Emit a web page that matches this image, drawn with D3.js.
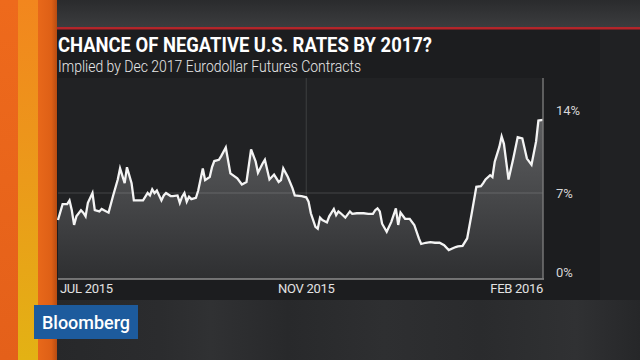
<!DOCTYPE html>
<html><head><meta charset="utf-8">
<script src="https://cdn.jsdelivr.net/npm/d3@7"></script>
<style>html,body{margin:0;padding:0;background:#242527;overflow:hidden}svg{display:block}</style>
</head><body>
<svg id="c" width="640" height="360"></svg>
<script>
// ---- data ----
const dates = ["2015-07-16","2015-07-18","2015-07-20","2015-07-21","2015-07-22","2015-07-23","2015-07-24","2015-07-26","2015-07-27","2015-07-28","2015-07-29","2015-07-31",
"2015-08-01","2015-08-03","2015-08-04","2015-08-05","2015-08-07","2015-08-09","2015-08-11","2015-08-12","2015-08-14","2015-08-15","2015-08-17","2015-08-18","2015-08-19","2015-08-21","2015-08-22","2015-08-24","2015-08-25","2015-08-26","2015-08-27","2015-08-28","2015-08-30","2015-08-31",
"2015-09-01","2015-09-03","2015-09-04","2015-09-06","2015-09-07","2015-09-08","2015-09-09","2015-09-10","2015-09-11","2015-09-12","2015-09-14","2015-09-15","2015-09-17","2015-09-18","2015-09-20","2015-09-21","2015-09-22","2015-09-24","2015-09-25","2015-09-27","2015-09-29",
"2015-10-02","2015-10-04","2015-10-06","2015-10-08","2015-10-10","2015-10-11","2015-10-13","2015-10-14","2015-10-16","2015-10-18","2015-10-20","2015-10-21","2015-10-22","2015-10-24","2015-10-26","2015-10-27","2015-10-30",
"2015-11-01","2015-11-02","2015-11-03","2015-11-05","2015-11-06","2015-11-07","2015-11-08","2015-11-10","2015-11-11","2015-11-13","2015-11-14","2015-11-15","2015-11-16","2015-11-18","2015-11-20","2015-11-21","2015-11-23","2015-11-26","2015-11-28","2015-11-30",
"2015-12-01","2015-12-02","2015-12-03","2015-12-04","2015-12-06","2015-12-08","2015-12-10","2015-12-11","2015-12-12","2015-12-14","2015-12-16","2015-12-18","2015-12-20","2015-12-21","2015-12-23","2015-12-25","2015-12-27","2015-12-29","2015-12-31",
"2016-01-02","2016-01-05","2016-01-06","2016-01-08","2016-01-10","2016-01-12","2016-01-14","2016-01-16","2016-01-17","2016-01-18","2016-01-20","2016-01-21","2016-01-22","2016-01-24","2016-01-25","2016-01-26","2016-01-28","2016-01-30",
"2016-02-01","2016-02-03","2016-02-05","2016-02-07","2016-02-09","2016-02-10","2016-02-12"];
const values = [4.8,6.1,6.1,6.4,5.6,4.4,5.1,5.6,5.4,5.1,6.2,7.0,
5.6,5.5,5.7,5.6,5.4,6.8,8.1,9.0,7.8,9.1,7.8,6.4,6.4,6.4,6.4,7.0,6.8,7.3,7.0,7.2,6.4,6.8,
7.0,6.75,6.75,6.8,6.2,6.7,7.0,6.3,6.7,6.5,6.6,7.2,9.0,8.05,8.3,9.1,9.6,9.7,10.0,10.7,8.6,
8.2,7.7,7.9,10.55,9.55,8.65,9.4,9.7,8.1,8.5,7.9,8.05,9.0,8.3,7.4,6.8,6.75,
6.65,6.3,5.35,4.25,4.1,5.0,4.8,4.6,5.1,5.7,5.2,5.5,5.35,5.0,5.5,5.3,5.35,5.35,5.3,5.3,
5.6,5.75,5.5,4.5,3.85,4.65,5.75,4.4,5.4,4.9,4.9,4.4,3.3,2.85,2.95,3.0,2.95,2.95,2.75,
2.35,2.6,2.65,2.7,3.3,5.35,7.5,7.55,7.8,8.1,8.45,8.3,9.55,10.75,11.6,11.0,8.1,9.75,
11.55,11.45,9.8,9.3,11.2,12.9,12.95];
const yTicks = [0, 7, 14];
const xTickDates = ["2015-07-16","2015-11-01","2016-02-12"];
const xTickLabels = ["JUL 2015","NOV 2015","FEB 2016"];
const titleText = "CHANCE OF NEGATIVE U.S. RATES BY 2017?";
const subtitleText = "Implied by Dec 2017 Eurodollar Futures Contracts";
const brandText = "Bloomberg";

// ---- layout ----
const W = 640, H = 360;
const plot = {left: 58, right: 543, top: 78, bottom: 279};
const parse = d3.timeParse("%Y-%m-%d");
const data = dates.map((d, i) => ({date: parse(d), value: values[i]}));

const x = d3.scaleTime().domain([parse("2015-07-16"), parse("2016-02-12")]).range([plot.left, plot.right]);
const y = d3.scaleLinear().domain([0, 14]).range([plot.bottom, 107]);

const svg = d3.select("#c");
const defs = svg.append("defs");

function lin(id, x1, y1, x2, y2, stops, units) {
  const g = defs.append("linearGradient").attr("id", id)
    .attr("x1", x1).attr("y1", y1).attr("x2", x2).attr("y2", y2);
  if (units) g.attr("gradientUnits", units);
  stops.forEach(s => g.append("stop").attr("offset", s[0]).attr("stop-color", s[1]));
}
lin("bgH", 0, 0, 1, 0, [[0, "#252628"], [0.25, "#2b2c2e"], [0.33, "#303133"], [0.45, "#28292b"], [0.6, "#2e2f31"], [0.75, "#2a2b2d"], [0.9, "#303133"], [1, "#262729"]]);
lin("topG", 0, 0, 0, 1, [[0, "#2a2b2d"], [1, "#3c3d3f"]]);
lin("s1", 0, 0, 0, 1, [[0, "#ee6a1c"], [1, "#e4601a"]]);
lin("s2", 0, 0, 0, 1, [[0, "#f2861e"], [0.5, "#eb9a1a"], [1, "#e3b214"]]);
lin("s3", 0, 0, 1, 0, [[0, "#e8681a"], [0.7, "#de6016"], [1, "#b84c12"]]);
lin("areaG", 0, 107, 0, plot.bottom, [[0, "#606163"], [0.5, "#48494b"], [1, "#2e2f31"]], "userSpaceOnUse");

// background
svg.append("rect").attr("width", W).attr("height", H).attr("fill", "url(#bgH)");
svg.append("rect").attr("x", 0).attr("y", 0).attr("width", W).attr("height", 28).attr("fill", "url(#topG)");
// dark panel (title + chart)
svg.append("rect").attr("x", 57).attr("y", 29).attr("width", W - 57).attr("height", 271).attr("fill", "#1c1d1f");
svg.append("rect").attr("x", 600).attr("y", 29).attr("width", 40).attr("height", 271).attr("fill", "#202123");
// red rule
svg.append("rect").attr("x", 57).attr("y", 27).attr("width", W - 57).attr("height", 2.5).attr("fill", "#b3252a");
// plot background
svg.append("rect").attr("x", plot.left).attr("y", plot.top).attr("width", plot.right - plot.left)
  .attr("height", plot.bottom - plot.top).attr("fill", "#212224");

// orange stripes
svg.append("rect").attr("x", 0).attr("y", 0).attr("width", 18).attr("height", H).attr("fill", "url(#s1)");
svg.append("rect").attr("x", 18).attr("y", 0).attr("width", 20).attr("height", H).attr("fill", "url(#s2)");
svg.append("rect").attr("x", 38).attr("y", 0).attr("width", 19).attr("height", H).attr("fill", "url(#s3)");

// titles
svg.append("text").attr("x", 58).attr("y", 51.5).text(titleText)
  .attr("font-family", "Roboto, 'Liberation Sans', sans-serif").attr("font-weight", 700)
  .attr("font-size", 20).attr("fill", "#ffffff")
  .attr("textLength", 374).attr("lengthAdjust", "spacingAndGlyphs");
svg.append("text").attr("x", 58).attr("y", 72).text(subtitleText)
  .attr("font-family", "Roboto, 'Liberation Sans', sans-serif").attr("font-weight", 300)
  .attr("font-size", 16).attr("fill", "#e8e8e8")
  .attr("textLength", 303).attr("lengthAdjust", "spacingAndGlyphs");

// vertical gridline at NOV
const g = svg.append("g");
g.append("line").attr("x1", x(parse(xTickDates[1]))).attr("x2", x(parse(xTickDates[1])))
  .attr("y1", plot.top).attr("y2", plot.bottom).attr("stroke", "#3e3f41").attr("stroke-width", 1);

// area + line
const area = d3.area().x(d => x(d.date)).y0(y(0)).y1(d => y(d.value));
const line = d3.line().x(d => x(d.date)).y(d => y(d.value));
g.append("path").datum(data).attr("d", area).attr("fill", "url(#areaG)");

// horizontal gridline 7%
g.append("line").attr("x1", plot.left).attr("x2", plot.right).attr("y1", y(7)).attr("y2", y(7))
  .attr("stroke", "#ffffff").attr("stroke-opacity", 0.16).attr("stroke-width", 1);

g.append("path").datum(data).attr("d", line).attr("fill", "none")
  .attr("stroke", "#f4f4f4").attr("stroke-width", 2.3).attr("stroke-linejoin", "miter");

// axes lines
g.append("line").attr("x1", plot.left).attr("x2", plot.right + 1).attr("y1", plot.bottom).attr("y2", plot.bottom)
  .attr("stroke", "#8c8c8c").attr("stroke-width", 1.6);
g.append("line").attr("x1", plot.right).attr("x2", plot.right).attr("y1", plot.top).attr("y2", plot.bottom)
  .attr("stroke", "#7a7a7a").attr("stroke-width", 1.4);

// y tick labels
const yOff = v => v === 14 ? 8 : (v === 0 ? -2 : 4.5);
g.selectAll(".yt").data(yTicks).enter().append("text")
  .attr("x", 556).attr("y", d => y(d) + yOff(d)).text(d => d + "%")
  .attr("font-family", "Roboto, 'Liberation Sans', sans-serif").attr("font-size", 13)
  .attr("fill", "#d6d6d6");

// x tick labels
const anchors = ["start", "middle", "end"];
const xOff = [2, 0, 0];
g.selectAll(".xt").data(xTickLabels).enter().append("text")
  .attr("x", (d, i) => x(parse(xTickDates[i])) + xOff[i]).attr("y", 293)
  .attr("text-anchor", (d, i) => anchors[i]).text(d => d)
  .attr("font-family", "Roboto, 'Liberation Sans', sans-serif").attr("font-size", 13)
  .attr("fill", "#e2e2e2").attr("letter-spacing", -0.3);

// Bloomberg badge
svg.append("rect").attr("x", 34).attr("y", 305).attr("width", 104).attr("height", 34).attr("fill", "#1d5b9d");
svg.append("text").attr("x", 42).attr("y", 328.5).text(brandText)
  .attr("font-family", "Roboto, 'Liberation Sans', sans-serif").attr("font-weight", 500)
  .attr("font-size", 17.5).attr("fill", "#ffffff")
  .attr("textLength", 88).attr("lengthAdjust", "spacingAndGlyphs");
</script>
</body></html>
